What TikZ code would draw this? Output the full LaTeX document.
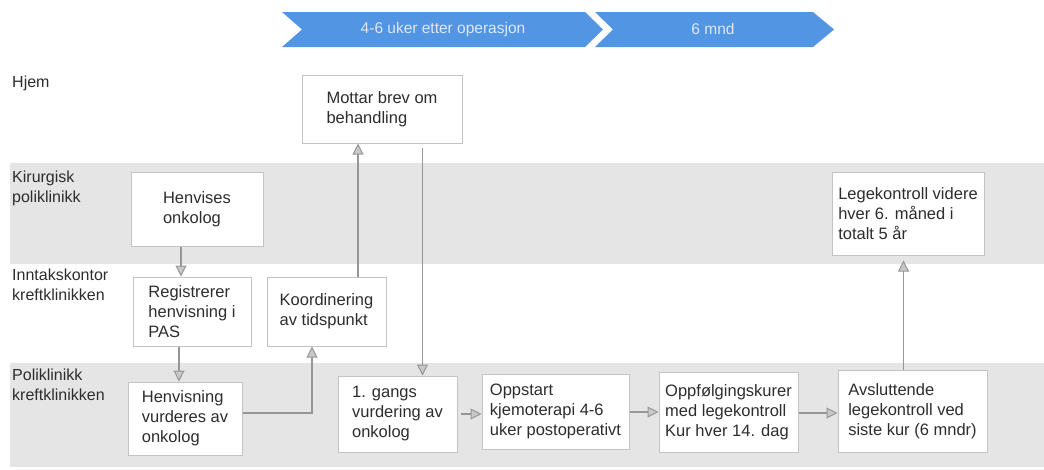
\documentclass[tikz,border=0pt]{standalone}
\usepackage{fontspec}
\setmainfont{Liberation Sans}
\usetikzlibrary{arrows.meta}
\definecolor{lanegray}{RGB}{229,229,229}
\definecolor{boxline}{RGB}{195,195,195}
\definecolor{arrline}{RGB}{150,150,150}
\definecolor{arrfill}{RGB}{200,200,200}
\definecolor{chev}{RGB}{82,149,227}
\definecolor{chevtext}{RGB}{222,232,247}
\definecolor{txt}{RGB}{45,45,45}
\tikzset{
  box/.style={draw=boxline, fill=white, line width=1pt, align=left, inner sep=0pt,
    font=\fontsize{16.5}{20}\selectfont, text=txt},
  lanelabel/.style={anchor=west, align=left, inner sep=0pt,
    font=\fontsize{16}{20}\selectfont, text=txt},
  arr/.style={draw=arrline, line width=1.7pt, -{Triangle[length=11pt,width=11pt,fill=arrfill,line width=1pt]}},
  chevlabel/.style={text=chevtext, font=\fontsize{15.5}{18}\selectfont, inner sep=0pt}
}
\begin{document}
\begin{tikzpicture}[x=1pt,y=-1pt]
\useasboundingbox (0,0) rectangle (1044,469);
% lanes
\fill[lanegray] (10,163) rectangle (1044,264);
\fill[lanegray] (10,363) rectangle (1044,467);
% chevrons
\fill[chev] (282,12) -- (302,29.5) -- (282,47) -- (585,47) -- (603,29.5) -- (585,12) -- cycle;
\fill[chev] (595,12) -- (613,29.5) -- (595,47) -- (813,47) -- (834,29.5) -- (813,12) -- cycle;
\node[chevlabel] (c1) at (443,29) {4-6 uker etter operasjon};
\node[chevlabel] (c2) at (713,29) {6 mnd};
% lane labels
\node[lanelabel] (l1) at (12,83) {Hjem};
\node[lanelabel] (l2) at (12,188.5) {Kirurgisk\\poliklinikk};
\node[lanelabel] (l3) at (12,285) {Inntakskontor\\kreftklinikken};
\node[lanelabel] (l4) at (12,385) {Poliklinikk\\kreftklinikken};
% boxes
\node[box, minimum width=160pt, minimum height=68pt] (mottar) at (382,109) {Mottar brev om\\behandling};
\node[box, minimum width=132pt, minimum height=74pt] (henv) at (197,209) {Henvises\\onkolog};
\node[box, minimum width=118pt, minimum height=69pt] (reg) at (192,311.5) {Registrerer\\henvisning i\\PAS};
\node[box, minimum width=119pt, minimum height=69pt] (koord) at (326.5,311.5) {Koordinering\\av tidspunkt};
\node[box, minimum width=114pt, minimum height=73pt] (hvurd) at (185,418.5) {Henvisning\\vurderes av\\onkolog};
\node[box, minimum width=119pt, minimum height=76pt] (forste) at (397.5,414) {1. gangs\\vurdering av\\onkolog};
\node[box, minimum width=147pt, minimum height=75pt] (oppstart) at (555.5,411.5) {Oppstart\\kjemoterapi 4-6\\uker postoperativt};
\node[box, minimum width=139pt, minimum height=80pt] (oppf) at (728.5,412) {Oppfølgingskurer\\med legekontroll\\Kur hver 14. dag};
\node[box, minimum width=149pt, minimum height=82pt] (avsl) at (912.5,411) {Avsluttende\\legekontroll ved\\siste kur (6 mndr)};
\node[box, minimum width=152pt, minimum height=83pt] (lege) at (908,213.5) {Legekontroll videre\\hver 6. måned i\\totalt 5 år};
% connectors
\draw[arr] (henv.south -| 181,0) -- (reg.north -| 181,0);
\draw[arr] (reg.south -| 179,0) -- (hvurd.north -| 179,0);
\draw[arr] (hvurd.east |- 0,413) -- (312,413) -- (koord.south -| 312,0);
\draw[arr] (koord.north -| 358,0) -- (mottar.south -| 358,0);
\draw[arr] ([yshift=-4pt]mottar.south -| 422.5,0) -- (forste.north -| 422.5,0);
\draw[arr] ([xshift=3pt]forste.east) -- (oppstart.west |- forste.east);
\draw[arr] (oppstart.east |- 0,412) -- (oppf.west |- 0,412);
\draw[arr] (oppf.east |- 0,413) -- (avsl.west |- 0,413);
\draw[arr] (avsl.north -| 903.5,0) -- ([yshift=-5pt]lege.south -| 903.5,0);
\end{tikzpicture}
\end{document}
